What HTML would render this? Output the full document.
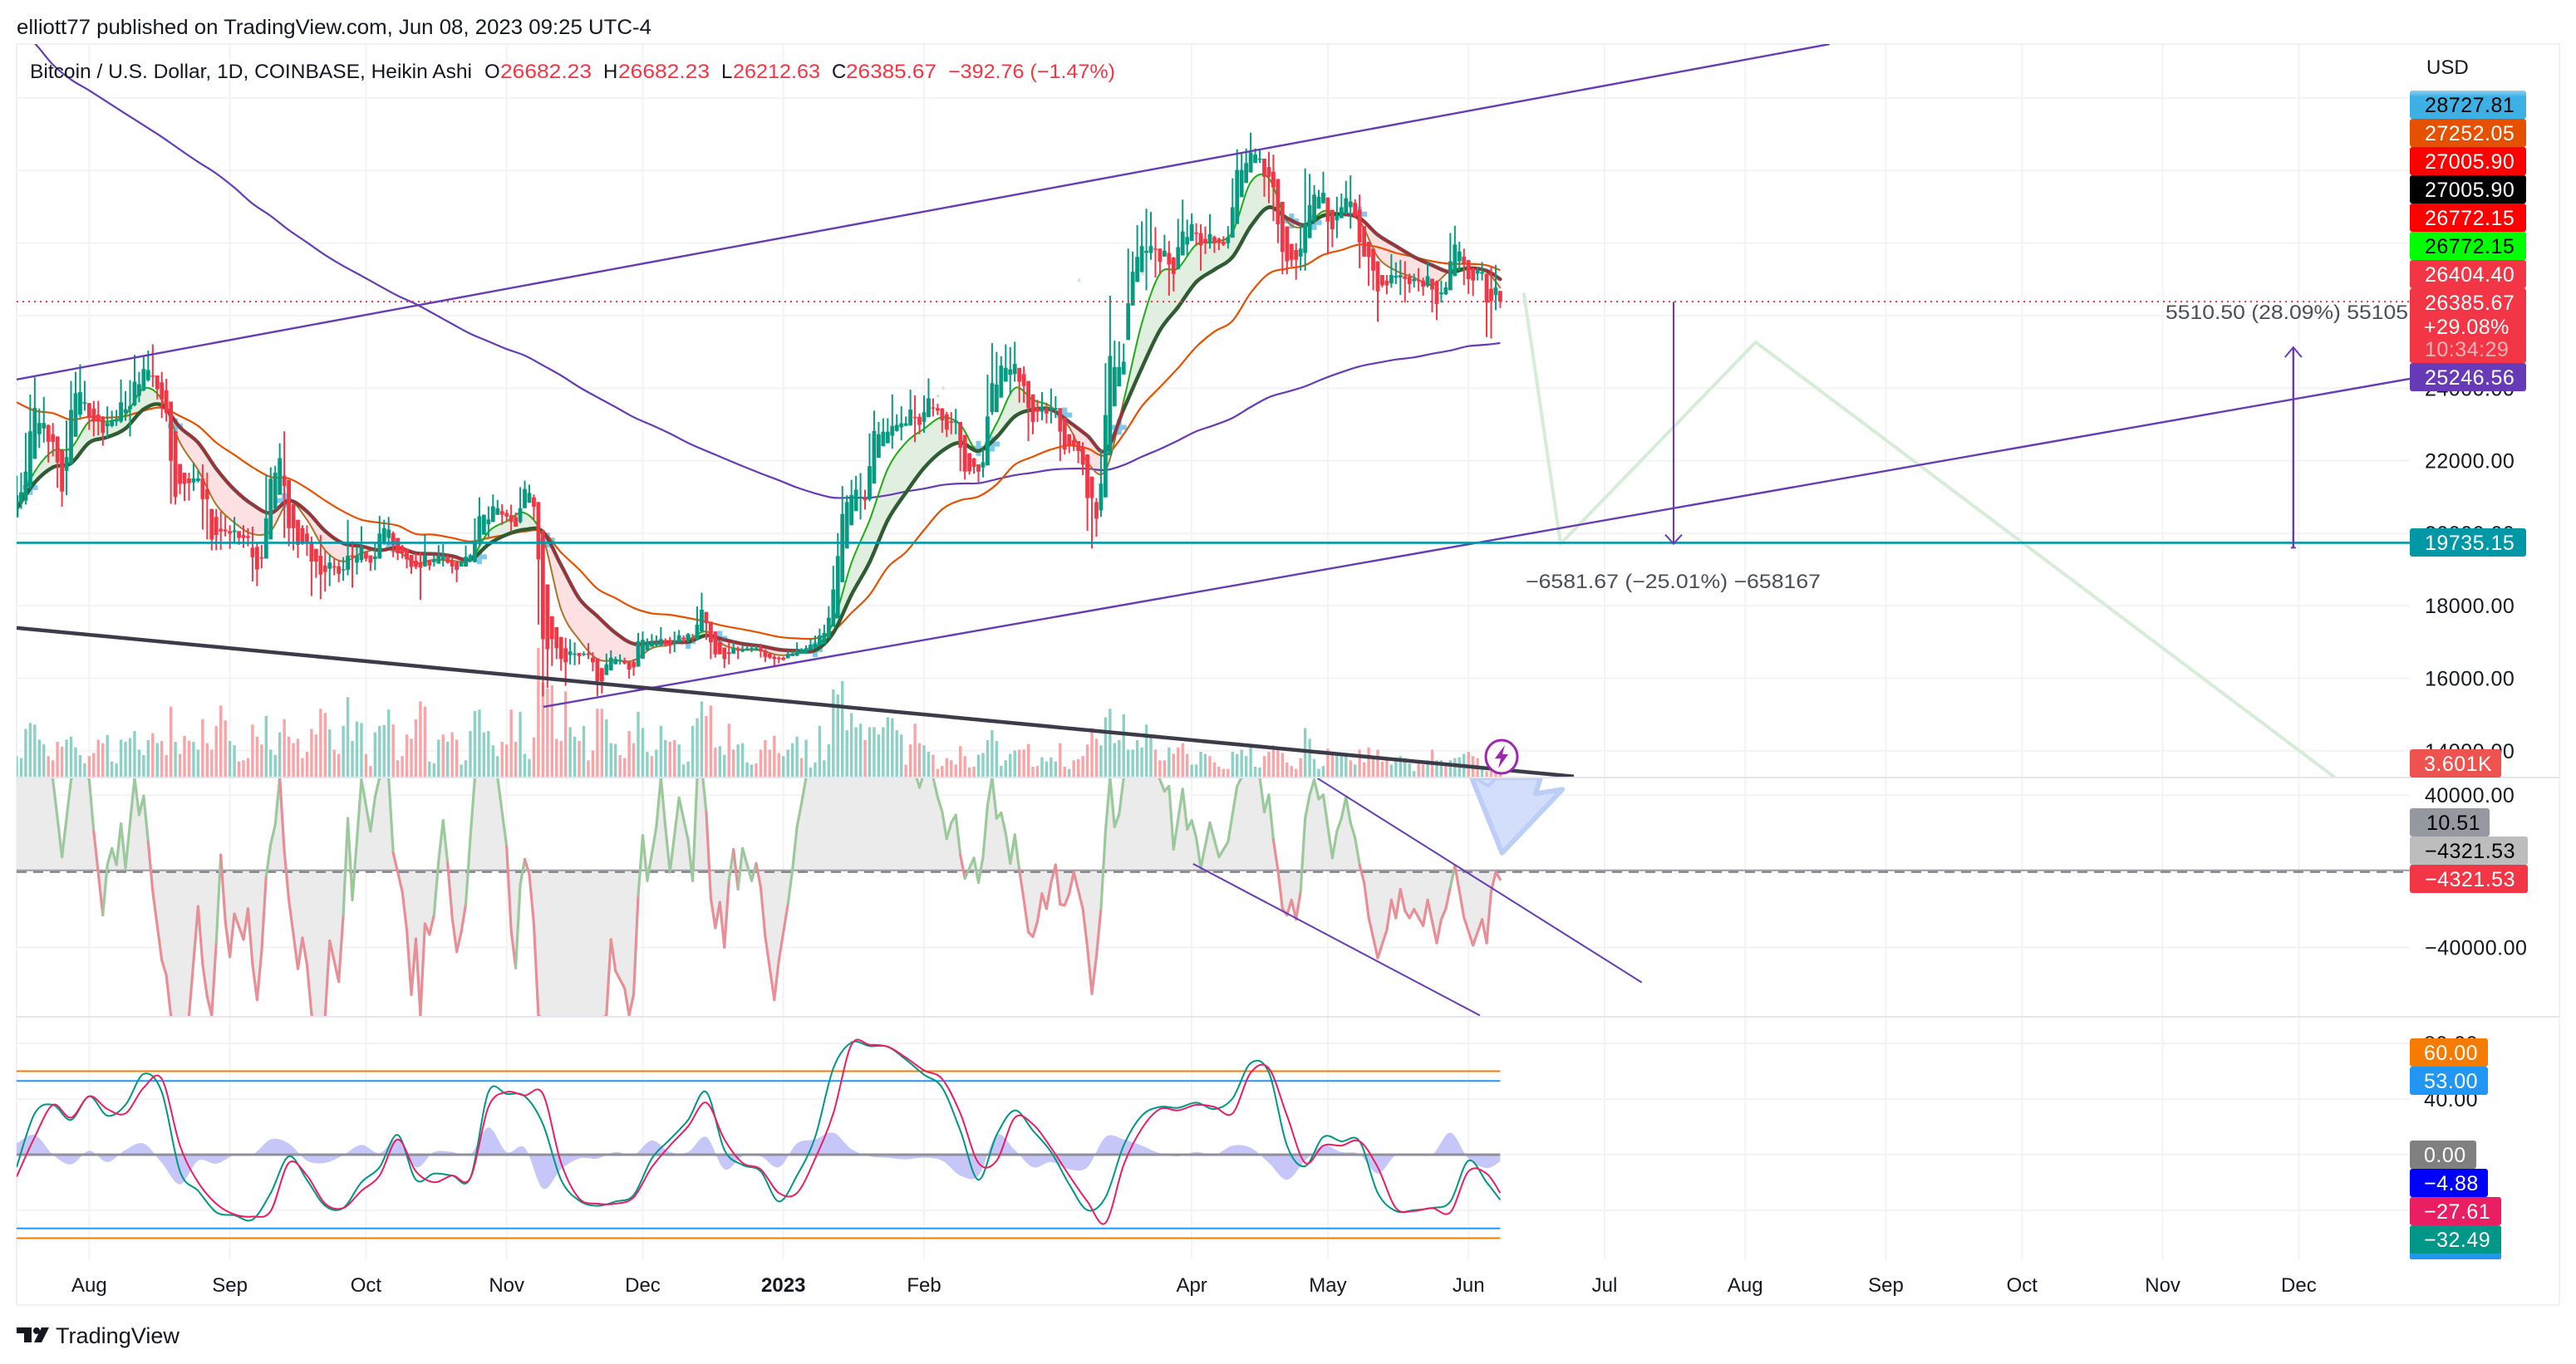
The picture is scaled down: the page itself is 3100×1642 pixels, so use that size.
<!DOCTYPE html>
<html lang="en">
<head>
<meta charset="utf-8">
<title>Bitcoin / U.S. Dollar chart</title>
<style>
html,body{margin:0;padding:0;background:#fff;}
svg{display:block;font-family:"Liberation Sans",sans-serif;}
.tick{font-size:25px;letter-spacing:.5px;fill:#131722;}
.lab{font-size:25px;letter-spacing:.5px;}
</style>
</head>
<body>
<svg id="chart" xmlns="http://www.w3.org/2000/svg" width="3100" height="1642" viewBox="0 0 3100 1642">
<defs>
<clipPath id="clipMain"><rect x="20" y="53" width="2880" height="883"/></clipPath>
<clipPath id="clipOsc"><rect x="20" y="937" width="2880" height="287"/></clipPath>
<clipPath id="clipStoch"><rect x="20" y="1225" width="2880" height="291"/></clipPath>
<linearGradient id="topLabelGrad" x1="0" y1="0" x2="0" y2="1"><stop offset="0" stop-color="#8fd2f0"/><stop offset=".22" stop-color="#3db1e6"/><stop offset="1" stop-color="#3db1e6"/></linearGradient>
</defs>
<rect x="0" y="0" width="3100" height="1642" fill="#ffffff"/>
<text x="20" y="41" font-size="25" fill="#131722" textLength="764" lengthAdjust="spacingAndGlyphs">elliott77 published on TradingView.com, Jun 08, 2023 09:25 UTC-4</text>
<rect x="20" y="53" width="3060" height="1518" fill="none" stroke="#f0f1f6" stroke-width="2"/>
<g id="gridLayer"></g>
<g id="volumeLayer" clip-path="url(#clipMain)"></g>
<g id="maFillLayer" clip-path="url(#clipMain)"></g>
<g id="maLayer" clip-path="url(#clipMain)"></g>
<g id="candleLayer" clip-path="url(#clipMain)"></g>
<g id="drawLayer" clip-path="url(#clipMain)"></g>
<g id="oscLayer" clip-path="url(#clipOsc)"></g>
<g id="stochLayer" clip-path="url(#clipStoch)"></g>
<rect x="20" y="935" width="3060" height="2" fill="#e4e5ee"/>
<rect x="20" y="1223" width="3060" height="2" fill="#e4e5ee"/>
<g id="tickLayer"></g>

<g font-size="24">
<text x="36" y="94" fill="#131722" textLength="532" lengthAdjust="spacingAndGlyphs">Bitcoin / U.S. Dollar, 1D, COINBASE, Heikin Ashi</text>
<text x="583" y="94" fill="#131722">O</text>
<text x="602" y="94" fill="#f23645" textLength="110" lengthAdjust="spacingAndGlyphs">26682.23</text>
<text x="726" y="94" fill="#131722">H</text>
<text x="744" y="94" fill="#f23645" textLength="110" lengthAdjust="spacingAndGlyphs">26682.23</text>
<text x="868" y="94" fill="#131722">L</text>
<text x="882" y="94" fill="#f23645" textLength="105" lengthAdjust="spacingAndGlyphs">26212.63</text>
<text x="1001" y="94" fill="#131722">C</text>
<text x="1018" y="94" fill="#f23645" textLength="109" lengthAdjust="spacingAndGlyphs">26385.67</text>
<text x="1141" y="94" fill="#f23645" textLength="201" lengthAdjust="spacingAndGlyphs">−392.76 (−1.47%)</text>
</g>

<text x="1836" y="708" font-size="24" fill="#4a4e5a" textLength="355" lengthAdjust="spacingAndGlyphs">−6581.67 (−25.01%) −658167</text>
<text x="2606" y="384" font-size="24" fill="#4a4e5a" textLength="292" lengthAdjust="spacingAndGlyphs">5510.50 (28.09%) 55105</text>

<g>
<ellipse cx="1807" cy="911" rx="19" ry="20" fill="#ffffff" stroke="#9c27b0" stroke-width="3"/>
<polygon points="1811,897 1799,913 1806,913 1803,925 1815,908 1808,908" fill="#9c27b0"/>
</g>

<text x="2920" y="89" font-size="24" fill="#131722">USD</text>

<g>
<g><rect x="2900" y="109" width="140" height="34" rx="3" fill="url(#topLabelGrad)"/><text class="lab" x="2918" y="135" fill="#000">28727.81</text></g>
<g><rect x="2900" y="143" width="140" height="34" rx="3" fill="#e65100"/><text class="lab" x="2918" y="169" fill="#fff">27252.05</text></g>
<g><rect x="2900" y="177" width="140" height="34" rx="3" fill="#ff0000"/><text class="lab" x="2918" y="203" fill="#fff">27005.90</text></g>
<g><rect x="2900" y="211" width="140" height="34" rx="3" fill="#000000"/><text class="lab" x="2918" y="237" fill="#fff">27005.90</text></g>
<g><rect x="2900" y="245" width="140" height="34" rx="3" fill="#ff0000"/><text class="lab" x="2918" y="271" fill="#fff">26772.15</text></g>
<g><rect x="2900" y="279" width="140" height="34" rx="3" fill="#00ff00"/><text class="lab" x="2918" y="305" fill="#000">26772.15</text></g>
<g><rect x="2900" y="313" width="140" height="34" rx="3" fill="#f23645"/><text class="lab" x="2918" y="339" fill="#fff">26404.40</text></g>
<g><rect x="2900" y="347" width="140" height="90" rx="3" fill="#f23645"/><text class="lab" x="2918" y="373" fill="#fff">26385.67</text><text class="lab" x="2917" y="402" fill="#fff">+29.08%</text><text class="lab" x="2918" y="429" fill="#fff" fill-opacity=".62">10:34:29</text></g>
<g><rect x="2900" y="437" width="140" height="34" rx="3" fill="#673ab7"/><text class="lab" x="2918" y="463" fill="#fff">25246.56</text></g>
<g><rect x="2900" y="636" width="140" height="34" rx="3" fill="#0097a7"/><text class="lab" x="2918" y="662" fill="#fff">19735.15</text></g>
<g><rect x="2900" y="902" width="110" height="34" rx="3" fill="#ef5350"/><text class="lab" x="2917" y="928" fill="#fff">3.601K</text></g>
<g><rect x="2900" y="973" width="96" height="34" rx="3" fill="#9598a1"/><text class="lab" x="2920" y="999" fill="#000">10.51</text></g>
<g><rect x="2900" y="1007" width="142" height="34" rx="3" fill="#bdbdbd"/><text class="lab" x="2918" y="1033" fill="#000">−4321.53</text></g>
<g><rect x="2900" y="1041" width="142" height="34" rx="3" fill="#f23645"/><text class="lab" x="2918" y="1067" fill="#fff">−4321.53</text></g>
<g><rect x="2900" y="1250" width="94" height="34" rx="3" fill="#f57c00"/><text class="lab" x="2917" y="1276" fill="#fff">60.00</text></g>
<g><rect x="2900" y="1284" width="94" height="34" rx="3" fill="#2196f3"/><text class="lab" x="2917" y="1310" fill="#fff">53.00</text></g>
<g><rect x="2900" y="1373" width="80" height="34" rx="3" fill="#808080"/><text class="lab" x="2917" y="1399" fill="#fff">0.00</text></g>
<g><rect x="2900" y="1407" width="94" height="34" rx="3" fill="#0000ff"/><text class="lab" x="2917" y="1433" fill="#fff">−4.88</text></g>
<g><rect x="2900" y="1441" width="110" height="34" rx="3" fill="#e91e63"/><text class="lab" x="2917" y="1467" fill="#fff">−27.61</text></g>
<rect x="2900" y="1505" width="110" height="11" rx="2" fill="#2196f3"/>
<g><rect x="2900" y="1475" width="110" height="34" rx="3" fill="#009688"/><text class="lab" x="2917" y="1501" fill="#fff">−32.49</text></g>
</g>

<g>
<polygon points="20,1598 38,1598 38,1616 29,1616 29,1605 20,1605" fill="#131722"/>
<circle cx="44" cy="1602" r="4" fill="#131722"/>
<polygon points="50,1598 59,1598 50,1616 41,1616" fill="#131722"/>
<text x="67" y="1617" font-size="27" fill="#131722" textLength="149" lengthAdjust="spacingAndGlyphs">TradingView</text>
</g>
</svg>

<script>
// ---- axis tick data ----
const priceTicks = [14, 16, 18, 20, 22, 24, 26, 28, 30, 32];
const priceTickLabels = ["14000.00", "16000.00", "18000.00", "20000.00", "22000.00", "24000.00", "26000.00", "28000.00", "30000.00", "32000.00"];
const oscTicks = [40, -40];
const oscTickLabels = ["40000.00", "−40000.00"];
const stochTicks = [80, 40, 0, -40];
const stochTickLabels = ["80.00", "40.00", "", ""];
const stochLevels = [60, 53, -53, -60];
const monthBars = [16, 47, 77, 108, 138, 169, 200, 259, 289, 320, 350, 381, 412, 442, 473, 503];
const monthLabels = ["Aug", "Sep", "Oct", "Nov", "Dec", "2023", "Feb", "Apr", "May", "Jun", "Jul", "Aug", "Sep", "Oct", "Nov", "Dec"];

// ---- candles, thousands of USD, one per day from 16 Jul 2022 ----
const candleOpen = [
20.44,20.83,20.9,21.28,22.05,22.73,22.89,22.98,22.73,22.67,
22.3,21.72,21.91,22.66,23.27,23.57,23.59,23.44,23.27,23.19,
22.95,22.96,23.08,23.08,23.31,23.42,23.53,23.79,23.94,24.22,
24.35,24.35,24.16,23.94,23.63,22.81,21.91,21.67,21.51,21.4,
21.44,21.51,21.22,20.67,20.45,20.12,20.1,20.06,20.03,20.06,
19.95,19.92,19.6,19.62,19.34,19.3,19.83,20.67,21.06,21.59,
21.47,20.81,20.37,20.14,19.99,19.76,19.57,19.38,19.11,19.02,
19.09,19.09,18.98,18.99,19.39,19.19,19.26,19.48,19.39,19.29,
19.3,19.76,19.87,20,19.87,19.64,19.57,19.4,19.24,19.19,
19.09,19.26,19.2,19.16,19.26,19.34,19.24,19.2,19.08,19.08,
19.24,19.2,19.77,19.96,20.25,20.31,20.51,20.61,20.56,20.5,
20.44,20.31,20.69,20.84,20.99,20.86,20.08,18.59,17.71,17.41,
17.14,16.83,16.64,16.67,16.7,16.67,16.68,16.57,16.55,16.28,
16.09,16.22,16.39,16.49,16.49,16.45,16.45,16.32,16.54,16.77,
16.87,16.91,16.91,17.05,17.05,16.99,16.99,17.12,17.06,17.12,
17.06,17.29,17.83,17.56,17.29,16.99,16.85,16.72,16.68,16.8,
16.74,16.77,16.8,16.77,16.83,16.76,16.68,16.59,16.57,16.57,
16.55,16.61,16.62,16.68,16.68,16.77,16.83,16.91,16.95,17.12,
17.42,17.65,18.65,19.58,20.22,20.61,20.97,20.97,20.93,21.37,
22.08,22.4,22.48,22.69,22.82,22.92,22.96,22.98,23.21,23.21,
23.07,23.2,23.47,23.45,23.44,23.28,23.09,23.05,23.07,22.71,
22.21,22.06,21.9,21.81,21.87,23.34,23.34,23.74,24.18,24.37,
24.39,24.56,24.39,24.2,23.83,23.45,23.35,23.45,23.4,23.41,
23.45,23.18,22.73,22.57,22.54,22.38,22.17,21.56,20.86,20.63,
20.99,22.15,23.5,24.05,24.38,25.33,26.28,26.93,27.2,27.73,
27.73,27.85,27.85,27.63,27.73,27.6,27.28,27.66,27.96,28.06,
28.29,28.28,28.12,28,28.17,28.12,28.04,28,28.15,28.53,
29.27,29.66,29.95,30.21,30.3,30.33,30.1,29.97,29.77,29.14,
28.46,27.98,27.81,27.63,27.73,28.14,28.61,28.95,29.1,29.26,
28.92,28.63,28.69,28.8,28.99,29.11,28.92,28.47,28.04,27.85,
27.5,27.12,26.97,26.89,27.05,27.05,27.09,27.07,26.95,26.99,
26.97,26.82,27.02,26.95,26.59,26.59,26.7,27.09,27.5,27.63,
27.53,27.31,27.16,27.16,27.16,26.74,26.57,26.682];
const candleHigh = [
21.59,21.67,22.77,23.82,24.3,23.44,23.76,23,23.04,22.67,
22.3,23.11,24.2,24.45,24.66,24.2,23.59,23.65,23.65,23.23,
23.5,23.38,23.4,24.24,23.92,24.22,24.92,24.45,24.91,25.04,
25.21,24.35,24.45,24.26,23.63,22.81,21.91,21.67,21.67,21.93,
21.74,21.9,21.67,20.67,20.67,20.6,20.48,20.22,20.45,20.06,
20.22,20.14,20.18,19.76,19.68,21.61,21.82,21.86,22.48,22.81,
21.47,20.81,20.37,20.22,20.22,19.91,19.57,19.95,19.53,19.41,
19.3,19.26,19.34,20.37,19.78,19.64,20.19,19.48,19.39,19.72,
20.48,20.37,20.45,20.05,19.87,19.68,19.57,19.4,19.45,19.49,
19.97,19.26,19.39,19.67,19.7,19.39,19.31,19.24,19.24,19.66,
19.43,20.41,20.99,20.51,20.74,21.07,20.92,20.8,20.65,20.79,
20.57,21.27,21.45,21.34,21.07,20.86,20.08,18.59,17.71,17.41,
17.14,17.12,17.08,16.99,16.7,16.74,16.97,16.72,16.55,16.28,
16.68,16.77,16.6,16.66,16.57,16.45,16.53,17.25,17.29,17.1,
17.22,17.18,17.41,17.1,17.14,17.29,17.33,17.18,17.25,17.22,
17.98,18.36,17.83,17.56,17.29,17.02,16.85,16.99,16.99,16.87,
16.91,16.91,16.91,16.91,16.95,16.8,16.7,16.64,16.6,16.6,
16.76,16.76,16.99,16.83,16.91,17.1,17.18,17.37,17.48,17.99,
19.1,20,21.3,21.05,21.47,21.58,21.66,21.2,22.75,23.38,
23.07,23.17,23.17,23.83,23.28,23.5,23.22,23.96,23.8,23.3,
23.8,24.27,23.72,23.57,23.45,23.35,23.34,23.43,23.07,22.71,
22.21,22.08,21.9,22.31,24.37,25.24,25,24.88,25.21,25.13,
25.28,24.56,24.6,24.2,23.83,23.68,23.89,23.6,23.99,23.78,
23.45,23.18,22.73,22.73,22.54,22.51,22.17,21.56,20.97,22.31,
24.69,26.55,25.31,25.29,25.23,27.85,27.77,28.5,28.6,28.95,
28.86,28.44,27.85,28.23,28.06,27.62,28.67,29.2,28.65,28.82,
28.55,28.52,28.46,28.8,28.21,28.15,28.19,28.47,29.79,30.59,
30.5,30.61,31.05,30.61,30.56,30.33,30.52,30.44,29.77,29.14,
28.46,27.98,28,28.53,30.06,29.91,29.6,29.47,29.97,29.26,
28.92,29.28,29.37,29.72,29.87,29.21,29.34,28.47,28.04,27.85,
27.5,27.12,27.12,27.7,27.47,27.54,27.5,27.16,27.16,27.31,
27.05,27.5,27.02,26.97,26.97,26.93,28.28,28.48,28.04,27.85,
27.54,27.31,27.35,27.48,27.16,27.35,27.4,26.682];
const candleLow = [
20.44,20.67,20.79,21.21,22.05,22.35,22.5,21.95,22.12,21.25,
20.73,21.05,21.89,22.66,23.19,23.38,22.85,22.67,22.7,22.41,
22.62,22.92,22.96,23.04,23.1,22.67,23.5,23.61,23.92,24.18,
24.03,23.69,23.18,23.08,20.81,20.79,21.08,20.89,20.9,21.17,
21.4,20.1,19.83,19.53,19.53,19.54,19.91,19.57,19.76,19.68,
19.6,19.64,18.67,18.54,19.03,19.3,19.83,20.67,21.06,19.87,
19.64,19.53,19.32,19.68,19.38,18.27,18.77,18.18,18.39,18.54,
18.84,18.65,18.69,18.84,18.5,18.86,19.19,19.22,18.96,18.98,
19.3,19.68,19.68,19.34,19.26,19.3,19.03,18.88,19.01,18.16,
19.07,18.98,19.08,19.16,19.08,19.16,18.89,18.65,19.08,19.08,
19.2,19.2,19.66,19.96,19.9,20.31,20.5,20.23,20.31,20.04,
20.18,20.27,20.69,20.84,20.38,17.48,15.5,15.73,16.34,16.53,
16.21,15.79,16.38,16.36,16.38,16.61,16.53,16.19,15.51,15.58,
16.09,16.22,16.38,16.38,16.38,15.99,16.07,16.32,16.54,16.76,
16.87,16.87,16.91,16.87,16.68,16.72,16.99,16.99,16.99,16.99,
17.06,17.29,17.06,16.53,16.57,16.66,16.28,16.38,16.68,16.53,
16.72,16.76,16.72,16.77,16.57,16.45,16.53,16.34,16.41,16.49,
16.55,16.61,16.61,16.68,16.68,16.77,16.83,16.91,16.95,17.12,
17.42,17.65,18.65,19.58,20.22,20.61,20.38,20.65,20.88,21.37,
22.08,22.4,22.48,22.33,22.8,22.56,22.96,22.96,22.51,22.73,
22.77,23.2,23.22,23.26,22.77,22.65,22.73,22.73,21.71,21.48,
21.62,21.64,21.41,21.54,21.87,23.26,23.34,23.74,24.18,23.83,
24.18,23.6,23.6,22.54,22.73,23.07,23.11,23.03,23.03,23.18,
21.99,22.17,22.21,22.27,21.93,21.6,20.07,19.58,19.9,20.45,
20.99,22.15,23.5,24.05,24.38,25.33,26.28,26.93,27.2,26.7,
27.54,27.05,27.16,27.63,26.55,26.67,27.28,27.66,27.66,28.06,
27.92,27.24,27.7,27.85,27.73,27.81,27.92,27.85,28.15,28.53,
29.27,29.66,29.95,30.21,30.21,29.28,29.1,28.61,28,27.14,
27.14,27.35,26.99,27.24,27.24,28.14,28.53,28.95,29.1,27.68,
27.89,28.14,28.69,28.8,28.4,28.69,27.31,27.63,26.82,26.7,
25.83,26.78,26.59,26.77,26.87,26.57,26.36,26.63,26.78,26.67,
26.55,26.78,26.09,25.88,26.36,26.57,26.7,27.09,27.24,26.84,
26.6,26.54,26.97,26.97,25.41,25.37,26.15,26.213];
const candleClose = [
21.05,21.13,21.7,22.81,23.46,23.04,23.04,22.52,22.52,21.95,
21.15,22.1,23.4,23.86,23.89,23.61,23.19,23.08,23.08,22.77,
23.04,23.1,23.15,23.61,23.42,23.51,24.18,24.11,24.53,24.5,
24.34,23.97,23.69,23.31,22,21,21.36,21.36,21.38,21.51,
21.51,20.94,20.94,19.83,19.95,20.05,20.05,19.99,20.08,19.87,
19.87,19.87,19.34,19,19.3,20.41,21.5,21.67,22.07,21.3,
20.14,20.14,19.68,19.76,19.72,19.22,19.22,18.86,18.93,19.19,
19.07,18.88,19.01,19.38,19.34,19.38,19.62,19.3,19.19,19.36,
19.99,20.14,20.1,19.68,19.45,19.45,19.28,19.07,19.07,19.05,
19.39,19.11,19.28,19.39,19.39,19.19,19.08,18.99,19.2,19.35,
19.39,19.77,20.47,20.51,20.38,20.74,20.69,20.51,20.46,20.31,
20.18,20.69,21.22,21.11,20.73,19.28,17.08,16.8,17.08,16.83,
16.53,16.44,16.74,16.68,16.61,16.68,16.64,16.44,15.92,15.92,
16.38,16.57,16.53,16.51,16.41,16.24,16.3,17.02,17.06,16.99,
16.99,16.99,17.08,16.93,16.91,17.02,17.18,17.08,17.2,17.08,
17.48,17.89,17.52,16.99,16.66,16.66,16.53,16.67,16.83,16.76,
16.8,16.82,16.83,16.83,16.74,16.59,16.57,16.53,16.53,16.51,
16.67,16.68,16.77,16.8,16.83,16.93,16.95,17.18,17.25,17.67,
18.45,19.37,20.53,20.86,21.05,21.2,21.01,20.91,21.85,22.82,
22.73,22.8,22.8,22.96,22.99,23.03,23.03,23.41,23.19,22.99,
23.34,23.72,23.45,23.38,23.11,22.86,23.05,23.11,22.36,21.7,
21.71,21.83,21.7,21.96,23.22,24.14,24.1,24.62,24.56,24.52,
24.67,24.18,24.06,23.45,23.07,23.35,23.49,23.3,23.45,23.45,
22.8,22.31,22.42,22.42,22.27,21.89,20.97,20.97,20.4,21.37,
23.26,24.89,24.58,24.58,24.73,26.34,27.21,27.62,27.92,27.79,
27.92,27.83,27.49,27.79,27.41,27.15,27.89,28.32,28.17,28.52,
28.27,27.94,28,28.25,28,28,27.96,28.17,28.99,30.02,
30.02,30.21,30.5,30.44,30.33,29.83,29.83,29.54,28.52,27.76,
27.5,27.54,27.54,27.85,28.52,29.05,29.34,29.28,29.39,28.59,
28.38,28.76,28.99,29.24,29.15,28.75,28.02,27.63,27.62,27.24,
26.67,26.84,26.84,27.12,27.1,27.12,27.01,26.87,27.01,26.95,
26.8,27.09,26.72,26.32,26.64,26.78,27.5,27.96,27.77,27.43,
27.01,26.97,27.24,27.2,26.36,26.4,26.78,26.386];

// ---- volume, thousands of BTC ----
const volumeValues = [
12.9,11.7,29.3,32.9,31.9,22.8,19.9,12.9,10.4,21.5,18.6,22.8,24.6,18.1,13.5,8.5,12.9,14.8,22.8,20.7,
25.6,9.6,8.5,22.8,21.5,23.8,28,16.8,13.5,22.5,26.7,20.7,22,13.5,42.7,21.5,14.2,25.1,22,21.5,
16.8,35,20.7,16.8,31.1,43.3,34.4,22,19.4,9.6,10.4,11.7,31.9,24.6,19.9,37,16.8,13.7,27.2,35,
24.6,20.7,23.3,11.7,15.5,29.3,25.9,41.4,38.9,29,16.8,14.2,31.1,48.4,22,33.7,32.9,14.2,7,27.2,
31.1,31.6,40.9,31.9,10.4,12.9,25.9,23.3,35,45.8,42.7,9.6,8.5,22.8,25.9,21.5,27.2,22.8,7.8,10.4,
28,40.1,40.9,27.2,28,19.4,12.9,21.5,19.9,40.9,21.5,39.6,14.2,11.1,24.1,78,57,53.5,55.5,23.3,
22,51.8,30.3,24.6,22,31.1,10.4,16.3,41.4,41.4,35,20.7,20.2,13.5,11.7,28,20.7,39.6,29.8,15.5,
12.9,16.8,31.1,22.5,21.5,22.5,19.9,7.8,9.6,31.1,35.7,45.8,37,43.3,18.1,18.9,13.7,32.4,16.8,19.9,
20.7,9.1,7.8,8.5,16.8,22.5,16.8,25.1,14.8,12.9,16.8,20.7,24.6,11.7,22.8,6,9.1,31.1,10.4,20,
53,50,58,28.5,38.8,30.3,32.4,22.5,30.3,30.3,25.9,30.3,36.3,35.7,28.5,25.9,7.8,19.9,32.4,20.7,
19.4,15.5,13.7,5.2,7,11.7,10.4,7.8,18.9,12.9,6,6.5,13.7,14.8,22.5,28.5,22,7,10.4,14.2,
16.3,16.8,16.8,20.2,6.5,7,12.2,9.6,12.2,9.6,20.7,6.5,5.2,10.4,11.1,12.9,19.9,29.8,23.3,19.4,
36.3,41.4,20.7,22.5,38.1,16.8,16.8,22.5,18.1,31.9,24.6,16.8,10.4,10.4,18.1,14.2,18.1,20.7,14.2,7.8,
7.8,15.5,14.2,12.9,9.1,6.5,5.2,5.2,15.5,14.2,16.8,12.9,19.4,6.5,6,12.9,15.5,19.4,18.1,14.8,
9.1,7,5.2,11.7,29.8,23.3,11.1,5.2,7,17.4,14.2,14.2,14.2,12.9,10.4,7.8,16.8,9.1,18.1,11.7,
16.8,9.6,10.9,7.8,11.7,12.9,11.7,8.5,3.9,9.1,7.8,10.4,16.8,10.4,10.4,8.5,10.4,11.7,12.2,14.2,
15.5,12.9,11.7,6.5,3.9,6.5,3.9,3.6];
const volumeUp = [
1,1,1,1,1,1,1,0,0,0,0,1,1,1,1,1,0,0,0,0,
1,1,1,1,1,1,1,1,1,1,0,1,0,0,0,1,0,0,0,1,
1,0,0,0,0,0,0,1,1,0,0,0,0,0,0,1,1,1,1,0,
0,0,0,0,0,0,0,0,0,1,0,0,1,1,1,1,1,0,0,1,
1,1,1,0,0,0,0,0,0,0,0,1,1,1,0,1,0,0,1,1,
1,1,1,1,1,1,1,0,0,0,0,1,1,1,0,0,0,0,0,0,
0,0,1,1,0,1,0,0,0,0,1,1,1,0,0,0,0,1,1,1,
0,1,1,1,0,0,1,1,1,1,1,1,0,0,0,1,1,0,0,1,
1,1,1,0,0,0,0,0,0,1,1,1,1,0,1,1,1,1,1,1,
1,1,1,1,1,1,1,0,1,1,1,1,1,1,1,1,0,0,0,0,
1,1,0,0,0,0,0,0,0,0,0,0,1,1,1,1,1,1,1,1,
1,0,0,0,0,0,1,1,1,1,0,0,1,0,0,0,0,0,0,1,
1,1,1,1,1,1,1,1,1,1,1,0,0,0,1,0,0,0,0,1,
1,1,1,0,0,0,0,0,1,1,1,1,1,1,1,0,0,0,0,0,
0,0,0,0,1,1,1,1,1,0,0,1,1,1,0,1,0,0,0,0,
0,0,0,1,1,1,1,1,1,0,0,1,0,1,1,0,1,1,1,1,
0,0,0,1,0,0,0,0];

// ---- moving averages, read every 4th bar plus the last bar ----
const maFast = [
20.67,21.7,22.27,22.35,23.08,23.08,23.27,23.99,23.69,22.5,21.74,20.79,20.29,19.98,20.06,20.86,20.37,19.53,19.22,19.45,
19.56,19.5,19.18,19.27,19.24,19.27,20.04,20.33,20.56,19.89,17.9,17.06,16.53,16.49,16.49,16.83,16.92,17.06,17.29,16.91,
16.79,16.77,16.64,16.68,16.83,17.55,19.18,20.36,21.77,22.5,22.88,23.2,22.99,22.27,23.03,24,23.68,23.49,22.92,21.96,
21.73,23.65,25.79,27.16,27.31,27.96,28.03,28.31,29.68,29.79,28.61,28.46,28.88,28.78,28.61,27.62,27.24,27.05,26.85,27.24,
27.31,27.2,26.772];
const maSlow = [
20.67,21.4,21.82,21.93,22.5,22.65,22.89,23.42,23.53,22.92,22.5,21.78,21.2,20.79,20.56,20.9,20.6,20.06,19.72,19.64,
19.53,19.6,19.45,19.43,19.37,19.27,19.69,19.96,20.1,20.04,19.12,18.2,17.71,17.25,16.95,16.98,17,17,17.18,17.06,
16.95,16.89,16.79,16.76,16.77,17.25,18.3,19.2,20.36,21.12,21.8,22.27,22.5,22.27,22.65,23.22,23.41,23.41,23.07,22.69,
22.27,23.42,24.56,25.6,26.24,26.93,27.27,27.62,28.46,28.99,28.69,28.5,28.76,28.8,28.69,28.23,27.92,27.62,27.39,27.2,
27.31,27.24,27.006];
const maOrange = [
23.61,23.38,23.31,23.13,23.21,23.19,23.23,23.38,23.46,23.23,22.96,22.5,22.16,21.82,21.55,21.51,21.24,20.9,20.6,20.37,
20.29,20.21,19.98,19.96,19.87,19.77,19.87,19.96,20.05,20.04,19.47,19,18.47,18.21,17.94,17.79,17.75,17.66,17.56,17.44,
17.35,17.25,17.14,17.1,17.1,17.3,17.8,18.3,19.06,19.48,20.09,20.66,20.91,21.01,21.35,21.89,22.11,22.31,22.42,22.34,
22.15,22.73,23.5,24.03,24.56,25.14,25.56,25.86,26.63,27.16,27.3,27.39,27.68,27.81,27.96,27.89,27.73,27.62,27.5,27.43,
27.43,27.39,27.252];
const maPurple = [
33.88,33.51,32.92,32.51,32.21,31.89,31.57,31.25,30.93,30.58,30.24,29.92,29.53,29.09,28.75,28.36,28.02,27.67,27.37,27.1,
26.82,26.55,26.32,26.05,25.77,25.5,25.29,25.08,24.9,24.63,24.35,24.03,23.75,23.48,23.2,22.98,22.75,22.49,22.27,22.06,
21.85,21.65,21.46,21.26,21.1,20.98,20.98,20.98,21.05,21.15,21.23,21.33,21.37,21.38,21.49,21.6,21.67,21.75,21.78,21.78,
21.74,21.88,22.11,22.32,22.56,22.81,22.98,23.18,23.48,23.75,23.9,24.05,24.26,24.44,24.6,24.7,24.79,24.85,24.95,25.04,
25.16,25.2,25.247];
const crossBars = [3, 35, 59, 83, 102, 117, 148, 155, 176, 212, 215, 231, 243, 281, 286, 296];
const crossPrices = [21.26, 22.96, 20.9, 19.68, 19.35, 19.81, 17.02, 17.1, 16.79, 22.34, 22.46, 23.26, 22.92, 28.61, 28.57, 28.8];
const dotBars = [204.2, 203.1, 248.2, 234.2];
const dotPrices = [24, 23.78, 27.15, 26.98];

// ---- oscillator pane, thousands ----
const oscBars = [0,7,8,10,12,13,15,16,17,19,20,21,22,23,24,26,27,28,29,30,31,32,33,34,36,38,40,41,42,43,44,45,46,47,48,50,51,52,53,54,55,56,57,58,59,60,61,62,63,64,65,66,68,69,71,72,73,74,75,76,78,79,80,81,82,83,85,86,87,88,89,90,91,92,93,94,95,96,97,98,99,100,101,103,106,108,109,110,111,112,113,114,115,120,125,130,131,132,134,135,136,137,138,139,141,142,143,144,146,148,149,150,151,152,153,154,155,156,157,158,159,160,162,163,164,165,167,168,170,171,172,173,174,176,195,198,199,200,201,202,203,204,205,206,207,208,209,211,212,213,214,215,216,217,218,219,220,221,222,223,224,225,226,227,228,229,230,231,232,233,235,236,237,238,239,240,241,242,243,244,250,252,253,254,255,257,258,259,260,261,263,265,267,269,270,272,274,275,276,277,278,279,280,281,282,283,284,285,286,287,288,289,290,291,292,293,294,295,296,297,298,300,302,303,304,305,306,307,308,310,311,313,314,315,316,317,318,319,321,323,324,325,326,327];
const oscValues = [60,60,48.1,7.5,48.1,55,55,48,21,-23,3.4,12,3.4,25,1.8,49,29.6,39.6,15.4,-10.6,-28.7,-46.8,-54.7,-76,-85,-76,-18.5,-49,-66,-76,-37.7,8.6,-26.4,-45,-22.4,-35.9,-19.7,-49,-67.6,-42.3,-2.7,14.2,24.4,49.3,10.8,-15.1,-33.2,-51.3,-35,-49,-75,-85,-76,-36.6,-58,-23,27.8,-15.1,16.5,48.1,21,39,49.3,55,49.3,9.7,-10.6,-31,-64.9,-35.5,-75.7,-27.6,-33.2,-23,5.2,26.7,4.1,-24.2,-42.3,-32.1,-17.4,17.6,49.3,60,49.3,13.1,-31,-50.9,-7.2,6.3,-1.6,-27.6,-75.7,-85,-85,-75.7,-35.9,-52.4,-61.5,-75.7,-64.9,-12.9,18.8,-5,23.3,49.3,23.3,-0.5,38.6,16.5,-5,49.3,55,31.2,-14,-29.8,-16.3,-40,-5,11.5,-9.5,12,-5,4.1,-8.4,-34.4,-67.6,-46.8,-17.4,0.7,23.3,35.7,49.3,60,60,52,44,52,56,49.3,39,31.2,17,25.5,29.6,8.6,-3.8,7,-6,7.5,34.6,49.3,27.8,30.7,19.9,4.1,19.2,0.7,-15.1,-32,-34.4,-26.4,-11.8,-19.7,-6,3.4,-17.4,-17.9,-11.8,-0.5,-19.7,-40,-64.4,-44.5,-19.7,21,49.3,23.3,30,49.3,60,48.1,42,44.7,11.5,43.2,22.1,26.7,17.6,1.8,25.5,7.5,15.4,44.7,49.3,60,49.3,31.2,40.2,16.5,0.7,-19.7,-23,-15.1,-25.3,-10.6,27.8,40.2,48.1,37.9,40.2,23.3,7,21,27.8,39,25.5,17.6,3.4,-6,-24.2,-45.6,-30.9,-15.1,-24.6,-9.5,-20.8,-24.6,-20,-28.7,-15.1,-37.7,-25.3,-19.7,-8.4,2.9,-10.6,-24.2,-38.9,-25.3,-37.7,-10.6,-0.5,-4.32];
const oscRedStart = [17, 29, 45, 58, 83, 95, 108, 112, 152, 158, 163, 208, 221, 277, 296, 317];
const oscRedEnd   = [19, 44, 55, 72, 92, 99, 110, 137, 157, 159, 170, 209, 239, 283, 316, 327];

// ---- stochastic pane, read every 4th bar plus the last bar ----
const stochK = [
-9,29.7,35.8,25,42,28,35.8,58,45,-12,-26,-41.4,-43.6,-46.7,-27.5,-1.2,-18.2,-36.8,-38.3,-19.8,
-9,14.2,-18,-13.6,-15,-16.7,45,43.6,42,21.9,-18,-33,-36.8,-33.7,-29,-2.8,11,25,45,3.4,
-7.4,-12,-33.7,-15,12.7,62,80.6,78,77.6,68.3,57.5,48.2,17.3,-18,14.2,31.8,17.3,1.9,-21.3,-39.9,
-30.6,6.5,28,34.3,33.7,37.4,32.8,40.5,65.8,59,6.5,-8.3,12.7,9.6,9.6,-27.5,-40.5,-39.9,-38.3,-33.7,
-4.3,-19.8,-32.49];
const stochD = [
-15.8,12.7,35.8,26.6,42,32.8,29.7,48.2,54.4,6.5,-19.8,-35.2,-43,-44.5,-40.5,-5.9,-15,-35.2,-38.3,-26,
-15,11,-12,-19.8,-15,-16.7,34.3,45,42.6,43.6,-5.9,-31.5,-35.2,-35.2,-30.6,-9,6.5,20.4,37.4,11,
-5.9,-10.5,-27.5,-27.5,-2.8,29.7,79,79,77.6,69.8,60.6,54.4,29.7,-5.9,-4.3,26.6,21.9,4.9,-15,-33.7,
-49,-7.4,18.8,32.8,31.8,35.8,34.3,29.7,59,62,28,-5.9,6.5,6.5,9.6,-9,-38.3,-40.5,-38.3,-41.4,
-12,-13.6,-27.61];
const stochHist = [
8,14.2,0,-7,2.8,-5.3,3.4,8,-5.9,-21.3,-4.3,-6.5,-0.3,0,11,8,-4.3,-5.9,-0.3,7,
1,11,-9,1.9,1.9,0,19.5,1.9,5,-24.4,-10.5,-2.8,-2.8,1.9,-0.3,10.2,1.9,1.9,12.7,-10.5,
-1.2,-1.2,-9,8,11,15.8,4,-1.2,-2.2,-3.4,-2.2,-4.3,-15,-15,14.2,3.4,-9,-5.3,-10.5,-9,
12.7,11,6.5,1,-1.2,1.9,-0.3,6.5,5,-5.9,-18,-4.3,6.5,1.9,0.3,-13.6,-0.3,0.3,0,15.8,
-2.8,-9.6,-4.88];

// ---- drawings, in bar index and axis units ----
const upperTrendBars = [0, 399.6];
const upperTrendPrices = [24.24, 33.49];
const lowerTrendBars = [116.1, 527.5];
const lowerTrendPrices = [15.21, 24.26];
const blackTrendBars = [0, 343.2];
const blackTrendPrices = [17.39, 13.29];
const pathBars = [332.2, 340.3, 383.3, 511];
const pathPrices = [26.63, 19.71, 25.27, 13.26];
const downArrowBar = 365.2;
const downArrowPrices = [26.38, 19.71];
const upArrowBar = 501.8;
const upArrowPrices = [19.6, 25.13];
const lastPrice = 26.386;
const supportPrice = 19.735;
const channelUpperBars = [286.7, 358.2];
const channelUpperValues = [48.9, -58.5];
const channelLowerBars = [259.3, 322.5];
const channelLowerValues = [3.9, -75.8];
const blueArrowBars = [320.7, 327.4, 340.7, 334.8, 335.9];
const blueArrowValues = [49.3, 9.6, 43, 40.8, 49.3];
const blueNotchBars = [321.4, 324.4, 326];
const blueNotchValues = [49, 44.8, 49];

// ---- axis functions ----
const barX = i => 20 + i * 5.46;
const priceY = p => 380 + (26 - p) * 43.65;
const volumeH = v => v * 2;
const oscY = v => 1048.8 - v * 2.29;
const stochY = v => 1390 - v * 1.675;
const lastBar = candleClose.length - 1;
const MAIN_BOTTOM = 936, AXIS_LEFT = 20, AXIS_RIGHT = 2900;

const maBars = [];
for (let i = 0; i < lastBar - 2; i += 4) maBars.push(i);
maBars.push(lastBar);

const NS = 'http://www.w3.org/2000/svg';
function make(tag, attrs, parent) {
  const e = document.createElementNS(NS, tag);
  for (const k in attrs) e.setAttribute(k, attrs[k]);
  parent.appendChild(e);
  return e;
}
const pts = (xs, ys) => xs.map((x, i) => x.toFixed(1) + ',' + ys[i].toFixed(1)).join(' ');
const layer = id => document.getElementById(id);

// curve helpers: pass through every read value with rounded joins
function curveControls(xs, ys, n) {
  const a = Math.max(0, n - 1), d = Math.min(xs.length - 1, n + 2);
  return [xs[n] + (xs[n + 1] - xs[a]) / 6, ys[n] + (ys[n + 1] - ys[a]) / 6,
          xs[n + 1] - (xs[d] - xs[n]) / 6, ys[n + 1] - (ys[d] - ys[n]) / 6];
}
const fmt = a => a.map(v => v.toFixed(1)).join(' ');
function curveSegment(xs, ys, n) {
  const c = curveControls(xs, ys, n);
  return 'C' + fmt([c[0], c[1], c[2], c[3], xs[n + 1], ys[n + 1]]);
}
function curveSegmentBack(xs, ys, n) {
  const c = curveControls(xs, ys, n);
  return 'C' + fmt([c[2], c[3], c[0], c[1], xs[n], ys[n]]);
}
function curvePath(xs, ys) {
  let d = 'M' + fmt([xs[0], ys[0]]);
  for (let n = 0; n < xs.length - 1; n++) d += curveSegment(xs, ys, n);
  return d;
}

// ---- grid ----
const grid = layer('gridLayer');
const GRID = '#f3f3f5';
priceTicks.forEach(t => {
  const g = make('line', {x1: AXIS_LEFT, x2: AXIS_RIGHT, y1: priceY(t), y2: priceY(t), stroke: GRID, 'stroke-width': 2}, grid);
  
  
});
oscTicks.forEach(t => {
  const g = make('line', {x1: AXIS_LEFT, x2: AXIS_RIGHT, y1: oscY(t), y2: oscY(t), stroke: GRID, 'stroke-width': 2}, grid);
  
  
});
stochTicks.forEach(t => {
  const g = make('line', {x1: AXIS_LEFT, x2: AXIS_RIGHT, y1: stochY(t), y2: stochY(t), stroke: GRID, 'stroke-width': 2}, grid);
  
  
});
monthBars.forEach(b => {
  const g = make('line', {x1: barX(b), x2: barX(b), y1: 54, y2: 1516, stroke: GRID, 'stroke-width': 2}, grid);
  
  
});

// ---- tick labels ----
const ticks = layer('tickLayer');
priceTicks.forEach((t, i) => {
  const e = make('text', {x: 2918, y: priceY(t) + 9, class: 'tick'}, ticks);
  e.textContent = priceTickLabels[i];
  
  
});
oscTicks.forEach((t, i) => {
  const e = make('text', {x: 2918, y: oscY(t) + 9, class: 'tick'}, ticks);
  e.textContent = oscTickLabels[i];
  
  
});
stochTicks.forEach((t, i) => {
  if (!stochTickLabels[i]) return;
  const e = make('text', {x: 2917, y: stochY(t) + 9, class: 'tick'}, ticks);
  e.textContent = stochTickLabels[i];
  
  
});
monthBars.forEach((b, i) => {
  const e = make('text', {x: barX(b), y: 1555, 'font-size': 24, fill: '#131722', 'text-anchor': 'middle'}, ticks);
  if (monthLabels[i] === '2023') e.setAttribute('font-weight', 'bold');
  e.textContent = monthLabels[i];
  
  
});

// ---- volume ----
volumeValues.forEach((v, i) => {
  const h = volumeH(v);
  const r = make('rect', {x: barX(i) - 1.7, y: MAIN_BOTTOM - h, width: 3.4, height: h, fill: volumeUp[i] ? '#8dd1c6' : '#f9a5a7'}, layer('volumeLayer'));
  
  
});

// ---- ribbon fill and moving averages ----
const maFill = layer('maFillLayer');
const ma = layer('maLayer');
const maXs = maBars.map(barX);
const fastYs = maFast.map(priceY);
const slowYs = maSlow.map(priceY);
for (let n = 0; n < maBars.length - 1; n++) {
  const up = maFast[n] + maFast[n + 1] >= maSlow[n] + maSlow[n + 1];
  const tone = up ? '#e0efe0' : '#fde0e1';
  const d = 'M' + fmt([maXs[n], fastYs[n]]) + curveSegment(maXs, fastYs, n) +
            'L' + fmt([maXs[n + 1], slowYs[n + 1]]) + curveSegmentBack(maXs, slowYs, n) + 'Z';
  const f = make('path', {d: d, fill: tone, stroke: tone, 'stroke-width': 0.6}, maFill);
  
  
}
crossBars.forEach((b, i) => {
  const x = barX(b), y = priceY(crossPrices[i]);
  const h = make('rect', {x: x - 9, y: y - 3, width: 18, height: 6, fill: '#80c8ee'}, maFill);
  
  
  const v = make('rect', {x: x - 3, y: y - 9, width: 6, height: 18, fill: '#80c8ee'}, maFill);
  
  
});
dotBars.forEach((b, i) => {
  const c = make('circle', {cx: barX(b), cy: priceY(dotPrices[i]), r: 2, fill: '#cfe8cf'}, maFill);
  
  
});
const ema200 = make('path', {d: curvePath(maXs, maPurple.map(priceY)), fill: 'none', stroke: '#673ab7', 'stroke-width': 2.2}, ma);


const ema50 = make('path', {d: curvePath(maXs, maOrange.map(priceY)), fill: 'none', stroke: '#e65100', 'stroke-width': 2.2}, ma);


for (let n = 0; n < maBars.length - 1; n++) {
  const up = maFast[n] + maFast[n + 1] >= maSlow[n] + maSlow[n + 1];
  const fastD = 'M' + fmt([maXs[n], fastYs[n]]) + curveSegment(maXs, fastYs, n);
  const slowD = 'M' + fmt([maXs[n], slowYs[n]]) + curveSegment(maXs, slowYs, n);
  const fast = make('path', {d: fastD, fill: 'none', stroke: up ? '#1fab16' : '#a8742a', 'stroke-width': 2, 'stroke-linecap': 'round'}, ma);
  
  
  const slowBase = make('path', {d: slowD, fill: 'none', stroke: up ? '#2f5c33' : '#5e5a5a', 'stroke-width': 4.5, 'stroke-linecap': 'round'}, ma);
  
  
  if (!up) {
    const slowTop = make('path', {d: slowD, fill: 'none', stroke: '#b3262c', 'stroke-width': 2.4, 'stroke-linecap': 'round'}, ma);
    
    
  }
}

// ---- candles ----
candleClose.forEach((c, i) => {
  const o = candleOpen[i], col = c >= o ? '#089981' : '#f23645', x = barX(i);
  const wick = make('line', {x1: x, x2: x, y1: priceY(candleHigh[i]), y2: priceY(candleLow[i]), stroke: col, 'stroke-width': 2}, layer('candleLayer'));
  
  
  const top = priceY(Math.max(o, c)), bot = priceY(Math.min(o, c));
  const body = make('rect', {x: x - 2.4, y: top, width: 4.8, height: Math.max(1.5, bot - top), fill: col}, layer('candleLayer'));
  
  
});

// ---- drawings ----
const draw = layer('drawLayer');
const lp = make('line', {x1: AXIS_LEFT, x2: AXIS_RIGHT, y1: priceY(lastPrice), y2: priceY(lastPrice), stroke: '#f23645', 'stroke-width': 2, 'stroke-dasharray': '2 5'}, draw);


const pathLine = make('polyline', {points: pts(pathBars.map(barX), pathPrices.map(priceY)), fill: 'none', stroke: '#d5ecd6', 'stroke-width': 4}, draw);


const upTrend = make('line', {x1: barX(upperTrendBars[0]), x2: barX(upperTrendBars[1]), y1: priceY(upperTrendPrices[0]), y2: priceY(upperTrendPrices[1]), stroke: '#673ab7', 'stroke-width': 2.4}, draw);


const lowTrend = make('line', {x1: barX(lowerTrendBars[0]), x2: barX(lowerTrendBars[1]), y1: priceY(lowerTrendPrices[0]), y2: priceY(lowerTrendPrices[1]), stroke: '#673ab7', 'stroke-width': 2.4}, draw);


const blackTrend = make('line', {x1: barX(blackTrendBars[0]), x2: barX(blackTrendBars[1]), y1: priceY(blackTrendPrices[0]), y2: priceY(blackTrendPrices[1]), stroke: '#3b3b4a', 'stroke-width': 4.5}, draw);


const support = make('line', {x1: AXIS_LEFT, x2: AXIS_RIGHT, y1: priceY(supportPrice), y2: priceY(supportPrice), stroke: '#0097a7', 'stroke-width': 2.6}, draw);



const dx = barX(downArrowBar), dy1 = priceY(downArrowPrices[0]), dy2 = priceY(downArrowPrices[1]);
const downShaft = make('line', {x1: dx, x2: dx, y1: dy1, y2: dy2, stroke: '#673ab7', 'stroke-width': 2}, draw);


const downHead = make('polyline', {points: pts([dx - 10, dx, dx + 10], [dy2 - 11, dy2, dy2 - 11]), fill: 'none', stroke: '#673ab7', 'stroke-width': 2}, draw);


const ux = barX(upArrowBar), uy1 = priceY(upArrowPrices[0]), uy2 = priceY(upArrowPrices[1]);
const upShaft = make('line', {x1: ux, x2: ux, y1: uy1, y2: uy2, stroke: '#673ab7', 'stroke-width': 2.4}, draw);


const upHead = make('polyline', {points: pts([ux - 10, ux, ux + 10], [uy2 + 12, uy2, uy2 + 12]), fill: 'none', stroke: '#673ab7', 'stroke-width': 2}, draw);


const upBase = make('line', {x1: ux - 3, x2: ux + 3, y1: uy1, y2: uy1, stroke: '#673ab7', 'stroke-width': 2}, draw);



// ---- oscillator pane ----
const osc = layer('oscLayer');
const oscXs = oscBars.map(barX), oscYs = oscValues.map(oscY);
const z = oscY(0);
const oscArea = make('polygon', {
  points: oscXs[0].toFixed(1) + ',' + z + ' ' + pts(oscXs, oscYs) + ' ' + oscXs[oscXs.length - 1].toFixed(1) + ',' + z,
  fill: '#ebebeb'
}, osc);


const oscZeroDash = make('line', {x1: AXIS_LEFT, x2: AXIS_RIGHT, y1: z + 1, y2: z + 1, stroke: '#787b86', 'stroke-width': 2, 'stroke-dasharray': '12 8'}, osc);


const oscZero = make('line', {x1: AXIS_LEFT, x2: AXIS_RIGHT, y1: z - 1, y2: z - 1, stroke: '#9a9aa0', 'stroke-width': 2}, osc);


const isRed = b => oscRedStart.some((s, k) => b >= s && b < oscRedEnd[k]);
for (let n = 0; n < oscBars.length - 1; n++) {
  const seg = make('line', {x1: oscXs[n], x2: oscXs[n + 1], y1: oscYs[n], y2: oscYs[n + 1], stroke: isRed(oscBars[n]) ? '#e88e96' : '#9bc99c', 'stroke-width': 3.2, 'stroke-linecap': 'round'}, osc);
  
  
}
const chUp = make('line', {x1: barX(channelUpperBars[0]), x2: barX(channelUpperBars[1]), y1: oscY(channelUpperValues[0]), y2: oscY(channelUpperValues[1]), stroke: '#673ab7', 'stroke-width': 2}, osc);


const chLow = make('line', {x1: barX(channelLowerBars[0]), x2: barX(channelLowerBars[1]), y1: oscY(channelLowerValues[0]), y2: oscY(channelLowerValues[1]), stroke: '#673ab7', 'stroke-width': 2}, osc);


const blueArrow = make('polygon', {points: pts(blueArrowBars.map(barX), blueArrowValues.map(oscY)), fill: '#d3dffa', stroke: '#bccdf8', 'stroke-width': 6, 'stroke-linejoin': 'round'}, osc);


const blueNotch = make('polyline', {points: pts(blueNotchBars.map(barX), blueNotchValues.map(oscY)), fill: 'none', stroke: '#bccdf8', 'stroke-width': 4}, osc);



// ---- stochastic pane ----
const st = layer('stochLayer');
const stXs = maBars.map(barX);
const sz = stochY(0);
const histD = 'M' + fmt([stXs[0], sz]) + 'L' + curvePath(stXs, stochHist.map(stochY)).slice(1) + 'L' + fmt([stXs[stXs.length - 1], sz]) + 'Z';
const histArea = make('path', {d: histD, fill: '#c6c7f8'}, st);


const stZero = make('line', {x1: AXIS_LEFT, x2: barX(lastBar), y1: sz, y2: sz, stroke: '#8f8f99', 'stroke-width': 3}, st);


stochLevels.forEach(v => {
  const c = Math.abs(v) === 60 ? '#f57c00' : '#2196f3';
  const l = make('line', {x1: AXIS_LEFT, x2: barX(lastBar), y1: stochY(v), y2: stochY(v), stroke: c, 'stroke-width': 2}, st);
  
  
});
const kLine = make('path', {d: curvePath(stXs, stochK.map(stochY)), fill: 'none', stroke: '#009688', 'stroke-width': 2}, st);


const dLine = make('path', {d: curvePath(stXs, stochD.map(stochY)), fill: 'none', stroke: '#e91e63', 'stroke-width': 2}, st);


</script>
</body>
</html>
